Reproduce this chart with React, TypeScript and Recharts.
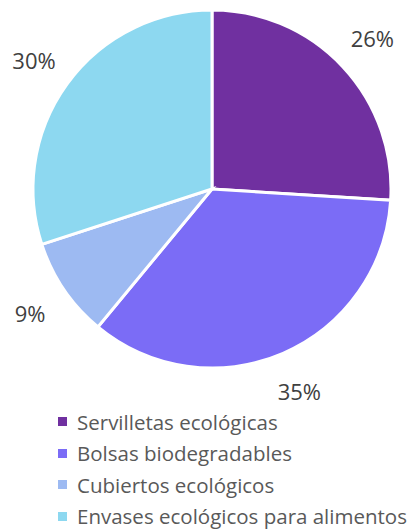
import { Cell, Legend, Pie, PieChart } from "recharts";

const categories = ["Servilletas ecológicas", "Bolsas biodegradables", "Cubiertos ecológicos", "Envases ecológicos para alimentos"];
const shares = [26, 35, 9, 30];
const colors = ["#7030A0", "#7B6CF6", "#9DBAF2", "#8DD8F0"];

const data = categories.map((name, i) => ({ name, value: shares[i] }));

const RAD = Math.PI / 180;

function renderLabel(props: any) {
  const { cx, cy, midAngle, outerRadius, value } = props;
  const r = outerRadius + 41;
  const x = cx + r * Math.cos(-midAngle * RAD);
  const y = cy + r * Math.sin(-midAngle * RAD);
  return (
    <text x={x} y={y} textAnchor="middle" dominantBaseline="central" fill="#404040" fontSize={22} fontFamily="Open Sans">
      {`${value}%`}
    </text>
  );
}

function renderLegend() {
  return (
    <div style={{ fontFamily: "Open Sans", fontSize: 20.5, color: "#595959" }}>
      {categories.map((name, i) => (
        <div key={name} style={{ display: "flex", alignItems: "center", height: 31.5, whiteSpace: "nowrap" }}>
          <span style={{ width: 9, height: 9, background: colors[i], marginRight: 10 }} />
          <span>{name}</span>
        </div>
      ))}
    </div>
  );
}

export default function App() {
  return (
    <div style={{ position: "absolute", left: 0, top: 0, background: "#fff" }}>
      <PieChart width={412} height={532} margin={{ top: 0, right: 0, bottom: 0, left: 0 }}>
        <Pie
          data={data}
          dataKey="value"
          nameKey="name"
          cx={212}
          cy={189}
          outerRadius={179}
          startAngle={90}
          endAngle={-270}
          stroke="#fff"
          strokeWidth={3}
          label={renderLabel}
          labelLine={false}
          isAnimationActive={false}
        >
          {data.map((d, i) => (
            <Cell key={d.name} fill={colors[i]} />
          ))}
        </Pie>
        <Legend content={renderLegend} wrapperStyle={{ position: "absolute", left: 58, top: 406, width: 354 }} />
      </PieChart>
    </div>
  );
}
